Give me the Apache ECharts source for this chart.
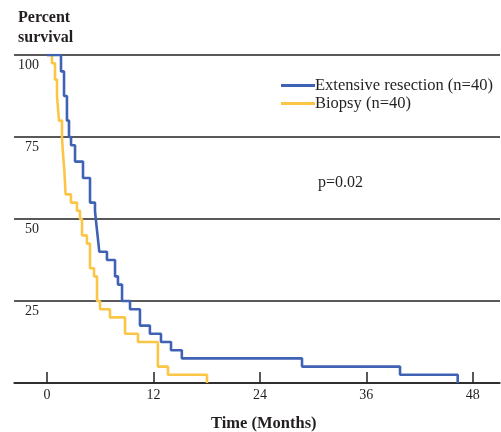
<!DOCTYPE html>
<html>
<head>
<meta charset="utf-8">
<script src="https://cdn.jsdelivr.net/npm/echarts@6/dist/echarts.min.js"></script>
<style>html,body{margin:0;padding:0;background:#fff}#c{width:501px;height:432px}</style>
</head>
<body>
<div id="c"></div>
<script>
// Kaplan-Meier step data: [time (months), survival % from that time]
const resectionName = 'Extensive resection (n=40)';
const biopsyName = 'Biopsy (n=40)';
const resectionTimes = [0, 1.58, 1.92, 2.25, 2.48, 2.71, 3.16, 4.06, 4.85, 5.41, 5.5, 5.7, 5.9, 6.76, 7.67, 8.0, 8.46, 9.36, 10.48, 11.6, 12.85, 13.98, 15.2, 28.75, 39.8, 46.3];
const resectionSurv  = [100, 95, 87.5, 80, 75, 72.5, 67.5, 62.5, 55, 52.5, 50, 45, 40, 37.5, 32.5, 30, 25, 22.5, 17.5, 15, 12.5, 10, 7.5, 5, 2.5, 0];
const biopsyTimes = [0, 0.56, 0.9, 1.13, 1.35, 1.69, 1.8, 1.95, 2.05, 2.1, 2.7, 3.38, 3.72, 3.95, 4.5, 4.85, 5.3, 5.64, 5.98, 7.1, 8.8, 10.26, 12.5, 13.64, 18.04];
const biopsySurv  = [100, 97.5, 92.5, 87.5, 80, 75, 70, 65, 60, 57.5, 55, 52.5, 50, 45, 42.5, 35, 32.5, 25, 22.5, 20, 15, 12.5, 5, 2.5, 0];
const xTickValues = [0, 12, 24, 36, 48];
const yTickValues = [25, 50, 75, 100];
const pText = 'p=0.02';

const serif = '"Liberation Serif","DejaVu Serif",serif';
const txt = '#231f20';
const chart = echarts.init(document.getElementById('c'), null, {renderer: 'canvas'});
const zip = (t, v) => t.map((x, i) => [x, v[i]]);

chart.setOption({
  animation: false,
  backgroundColor: '#fff',
  title: [
    {text: 'Percent\nsurvival', left: 13, top: 3,
     textStyle: {fontFamily: serif, fontWeight: 'bold', fontSize: 16, color: txt, lineHeight: 20}},
    {text: 'Time (Months)', left: 206, top: 410,
     textStyle: {fontFamily: serif, fontWeight: 'bold', fontSize: 16.5, color: txt}},
    {text: pText, left: 313, top: 170,
     textStyle: {fontFamily: serif, fontWeight: 'normal', fontSize: 16, color: txt}}
  ],
  legend: {
    orient: 'vertical', left: 276, top: 72, itemGap: 1,
    itemWidth: 34, itemHeight: 3, icon: 'rect',
    textStyle: {fontFamily: serif, fontSize: 16.5, color: txt, padding: [0, 0, 0, -5]},
    data: [resectionName, biopsyName]
  },
  grid: {left: 14, right: 1, top: 55, bottom: 49, containLabel: false},
  xAxis: {
    type: 'value', min: -3.72, max: 51.07,
    axisLine: {show: true, lineStyle: {color: '#222', width: 1.5}},
    axisTick: {show: true, inside: true, length: 11, customValues: xTickValues, lineStyle: {color: '#222', width: 1.5}},
    axisLabel: {customValues: xTickValues, margin: 5, fontFamily: serif, fontSize: 14, color: txt},
    splitLine: {show: false}
  },
  yAxis: {
    type: 'value', min: 0, max: 100, interval: 25,
    axisLine: {show: false}, axisTick: {show: false},
    axisLabel: {inside: true, margin: 25, align: 'right', verticalAlign: 'top', padding: [3, 0, 0, 0],
      fontFamily: serif, fontSize: 14, color: txt,
      formatter: v => (yTickValues.indexOf(v) >= 0 ? String(v) : '')},
    splitLine: {show: true, lineStyle: {color: '#222', width: 1.5}}
  },
  series: [
    {name: resectionName, type: 'line', step: 'end', showSymbol: false, symbol: 'none',
     data: zip(resectionTimes, resectionSurv), lineStyle: {color: '#4062b4', width: 2.6}, itemStyle: {color: '#4062b4'}, z: 3},
    {name: biopsyName, type: 'line', step: 'end', showSymbol: false, symbol: 'none',
     data: zip(biopsyTimes, biopsySurv), lineStyle: {color: '#fbc546', width: 2.6}, itemStyle: {color: '#fbc546'}, z: 2}
  ]
});
</script>
</body>
</html>
